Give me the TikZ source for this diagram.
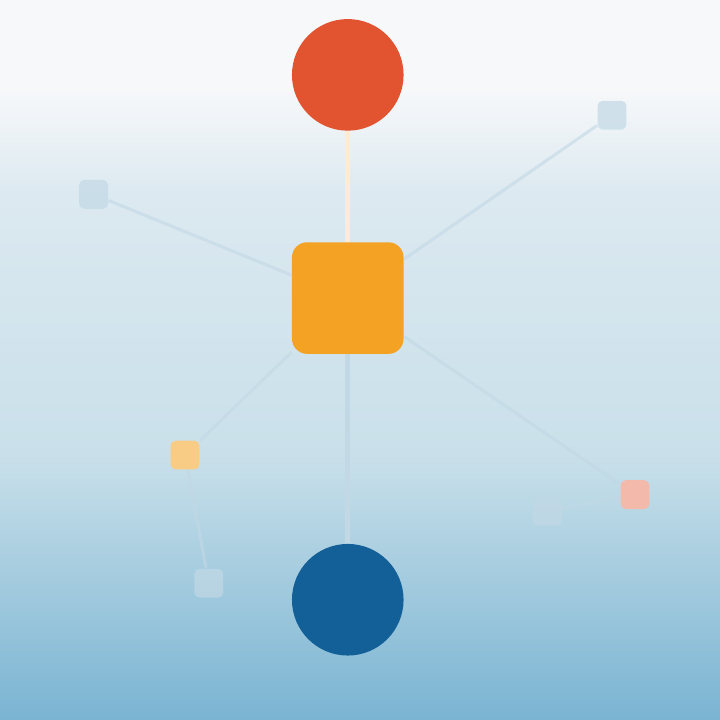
\documentclass[tikz,border=0pt]{standalone}
\usepackage{tikz}
\definecolor{topred}{HTML}{E2532F}
\definecolor{midorange}{HTML}{F4A223}
\definecolor{lowblue}{HTML}{135F98}
\definecolor{skyhigh}{HTML}{F6F8FA}
\definecolor{skymid}{HTML}{DCE9F0}
\definecolor{skydeep}{HTML}{C9E0EA}
\definecolor{skylow}{HTML}{7AB4D2}
\definecolor{faintline}{HTML}{C2D8E5}
\tikzset{
	bignode/.style={minimum size=1.55cm,inner sep=0pt},
	smallnode/.style={minimum size=0.4cm,inner sep=0pt,rounded corners=2pt},
	faint/.style={draw=faintline,line width=1.2pt,opacity=0.6}
}
\begin{document}
\begin{tikzpicture}
	\pgfsetxvec{\pgfpoint{1.cm}{0.0cm}}
	\pgfsetyvec{\pgfpoint{0.0cm}{1.0cm}}

	% background
	\useasboundingbox (0,0) rectangle (10,10);
	\fill[skyhigh] (0,8.75) rectangle (10,10);
	\shade[top color=skyhigh,bottom color=skymid] (0,7.3) rectangle (10,8.75);
	\shade[top color=skymid,bottom color=skydeep] (0,3.7) rectangle (10,7.3);
	\shade[top color=skydeep,bottom color=skylow] (0,0) rectangle (10,3.7);

	% faint side nodes
	\node[smallnode,fill=midorange!55] at (2.57,3.68) (leftbox) {};
	\node[smallnode,fill=topred!40] at (8.82,3.13) (rightbox) {};
	\node[smallnode,fill=faintline,opacity=0.7] at (1.3,7.3) (leftup) {};
	\node[smallnode,fill=faintline,opacity=0.7] at (8.5,8.4) (rightup) {};
	\node[smallnode,fill=faintline,opacity=0.7] at (2.9,1.9) (leftlow) {};
	\node[smallnode,fill=faintline,opacity=0.7] at (7.6,2.9) (rightlow) {};

	% main nodes
	\node[bignode,circle,fill=topred] at (4.83,8.96) (red) {};
	\node[bignode,rounded corners=6pt,fill=midorange] at (4.83,5.86) (orange) {};
	\node[bignode,circle,fill=lowblue] at (4.83,1.67) (blue) {};

	\path[draw=midorange!20,line width=2pt]
	(red) edge (orange);
	\path[draw=faintline,line width=2pt]
	(orange) edge (blue);
	\path[faint]
	(orange)
	edge (leftbox)
	edge (rightbox)
	edge (leftup)
	edge (rightup)
	(leftbox)
	edge (leftlow)
	(rightbox)
	edge (rightlow);

\end{tikzpicture}
\end{document}
